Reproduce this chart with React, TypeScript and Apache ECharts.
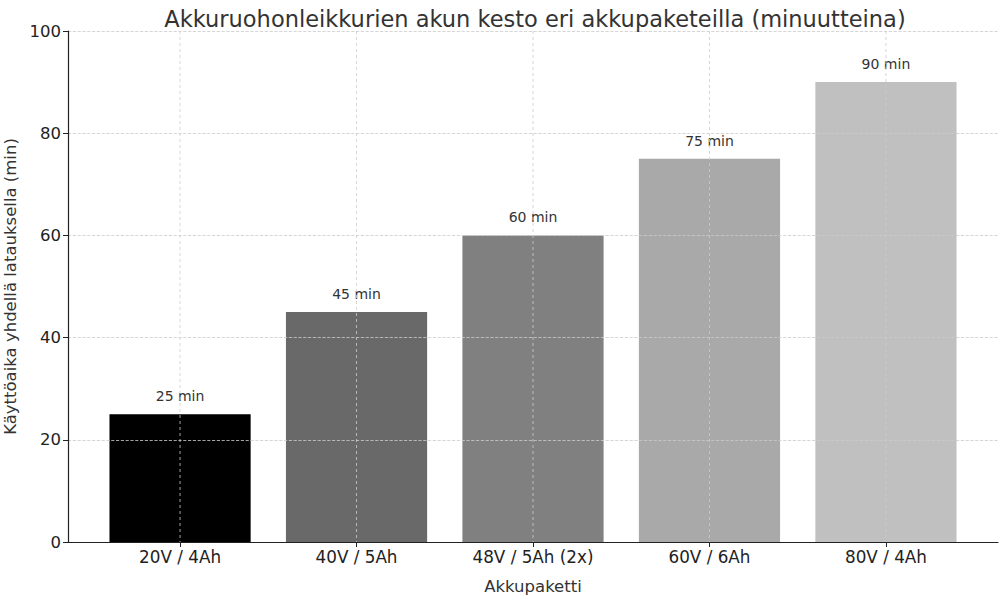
import React, { useEffect, useRef } from "react";
import * as echarts from "echarts";

const categories = ["20V / 4Ah", "40V / 5Ah", "48V / 5Ah (2x)", "60V / 6Ah", "80V / 4Ah"];
const runtimes = [25, 45, 60, 75, 90];
const barColors = ["#000000", "#696969", "#808080", "#a9a9a9", "#c0c0c0"];
const yTicks = [0, 20, 40, 60, 80, 100];

const FONT = "DejaVu Sans";
const GRID_COLOR = "#cccccc";

const App: React.FC = () => {
  const chartRef = useRef<HTMLDivElement>(null);

  useEffect(() => {
    document.body.style.margin = "0";
    if (!chartRef.current) return;
    const chart = echarts.init(chartRef.current, null, { renderer: "svg" });

    chart.setOption({
      animation: false,
      textStyle: { fontFamily: FONT },
      title: {
        text: "Akkuruohonleikkurien akun kesto eri akkupaketeilla (minuutteina)",
        left: 530,
        textAlign: "center",
        top: 2,
        textStyle: { fontFamily: FONT, fontSize: 22.5, fontWeight: "normal", color: "#333333" },
      },
      grid: { left: 68, right: 2, top: 31, bottom: 58, outerBoundsMode: "none", containLabel: false },
      xAxis: {
        type: "value",
        min: -0.635,
        max: categories.length - 1 + 0.635,
        name: "Akkupaketti",
        nameLocation: "middle",
        nameGap: 36,
        nameTextStyle: { fontFamily: FONT, fontSize: 16.5, color: "#333333" },
        axisLine: { show: true, onZero: false, lineStyle: { color: "#222222", width: 1.2 } },
        axisTick: {
          show: true,
          length: 5,
          customValues: categories.map((_, i) => i),
          lineStyle: { color: "#222222" },
        },
        axisLabel: {
          customValues: categories.map((_, i) => i),
          formatter: (v: number) => categories[Math.round(v)] ?? "",
          fontFamily: FONT,
          fontSize: 16.8,
          color: "#222222",
          margin: 6,
        },
        splitLine: { show: false },
        z: 3,
      },
      yAxis: {
        type: "value",
        min: 0,
        max: 100,
        interval: 20,
        name: "Käyttöaika yhdellä latauksella (min)",
        nameLocation: "middle",
        nameGap: 41,
        nameTextStyle: { fontFamily: FONT, fontSize: 16.5, color: "#333333" },
        axisLine: { show: true, onZero: false, lineStyle: { color: "#222222", width: 1.2 } },
        axisTick: { show: true, length: 5, lineStyle: { color: "#222222" } },
        axisLabel: {
          fontFamily: FONT,
          fontSize: 16.5,
          color: "#222222",
          margin: 7,
          formatter: (v: number) => (yTicks.includes(v) ? String(v) : ""),
        },
        splitLine: { show: true, lineStyle: { type: "dashed", color: GRID_COLOR, width: 0.8 } },
        z: 3,
      },
      series: [
        {
          type: "custom",
          data: runtimes.map((v, i) => [i, v]),
          renderItem: (params: any, api: any) => {
            const i = api.value(0);
            const v = api.value(1);
            const top = api.coord([i, v]);
            const base = api.coord([i, 0]);
            const w = api.size([0.8, 0])[0];
            const cs = params.coordSys;
            return {
              type: "group",
              children: [
                {
                  type: "rect",
                  shape: { x: top[0] - w / 2, y: top[1], width: w, height: base[1] - top[1] },
                  style: { fill: barColors[params.dataIndex] },
                },
                {
                  type: "text",
                  style: {
                    text: `${v} min`,
                    x: top[0],
                    y: top[1] - 11,
                    align: "center",
                    verticalAlign: "bottom",
                    fontFamily: FONT,
                    fontSize: 14,
                    fill: "#333333",
                  },
                },
                {
                  type: "line",
                  shape: { x1: top[0], y1: cs.y, x2: top[0], y2: cs.y + cs.height },
                  style: { stroke: GRID_COLOR, lineWidth: 0.8, lineDash: [3, 3] },
                },
              ],
            };
          },
        },
      ],
    });

    return () => chart.dispose();
  }, []);

  return <div ref={chartRef} style={{ width: "1000px", height: "600px" }} />;
};

export default App;
